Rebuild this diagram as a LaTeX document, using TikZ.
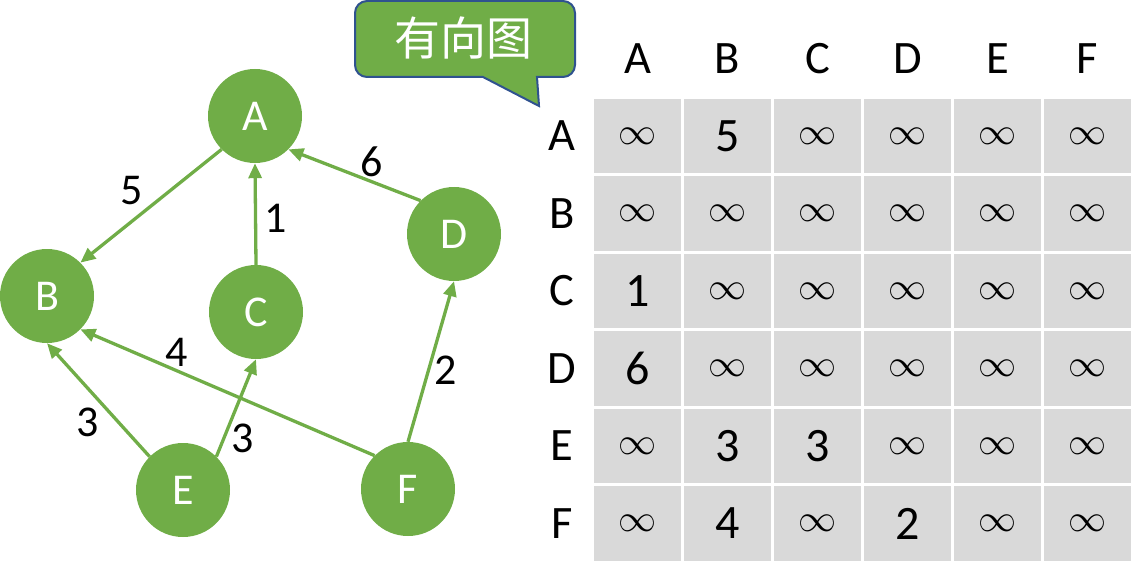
\documentclass[tikz,border=0pt]{standalone}
\usepackage{graphicx}
\usepackage{fontspec}
\setmainfont{Carlito}
\newfontfamily\cjk{Noto Sans CJK SC}
\usetikzlibrary{arrows.meta}
\definecolor{vgreen}{HTML}{70AD47}
\definecolor{vgray}{HTML}{D9D9D9}
\definecolor{vblue}{HTML}{2F528F}
\newcommand\vinf{\resizebox{38pt}{!}{$\infty$}}
\tikzset{
  vertex/.style={circle, fill=vgreen, draw=none, minimum size=94pt, inner sep=0pt, text=white, font=\fontsize{44}{44}\selectfont},
  edge/.style={draw=vgreen, line width=3.3pt, -{Triangle[length=15pt,width=13pt]}},
  wlabel/.style={inner sep=0pt, font=\fontsize{44}{44}\selectfont},
  cell/.style={rectangle, fill=vgray, draw=none, minimum width=87pt, minimum height=74.5pt, inner sep=0pt, font=\fontsize{48}{48}\selectfont},
  hdr/.style={inner sep=0pt, font=\fontsize{46.5}{46.5}\selectfont},
}
\begin{document}
\begin{tikzpicture}[x=1pt, y=-1pt]
\useasboundingbox (0,0) rectangle (1134,564);
% callout
\draw[fill=vgreen, draw=vblue, line width=2pt]
  (539,106) -- (483,77) [rounded corners=12pt] -- (355,77) -- (355,1) -- (575,1) -- (575,77) [sharp corners] -- (537,77) -- cycle;
\node[text=white, font=\cjk\fontsize{46}{46}\selectfont, inner sep=0pt] (title) at (463,38) {有向图};
% vertices
\node[vertex] (A) at (255,116) {A};
\node[vertex] (B) at (47,296) {B};
\node[vertex] (C) at (256,312) {C};
\node[vertex] (D) at (454,234) {D};
\node[vertex] (E) at (183,490) {E};
\node[vertex] (F) at (408,489) {F};
% edges
\draw[edge] (A.south west) -- (B.north east);
\draw[edge] (C.north) -- (A.south);
\draw[edge] (D.north west) -- (A.south east);
\draw[edge] (E.north west) -- (B.south);
\draw[edge] (E.north east) -- (C.south);
\draw[edge] (F.north west) -- (B.south east);
\draw[edge] (F.north) -- (D.south);
% weights
\node[wlabel] (w5) at (132,191) {5};
\node[wlabel] (w1) at (276,218) {1};
\node[wlabel] (w6) at (372,162) {6};
\node[wlabel] (w4) at (177,352) {4};
\node[wlabel] (w3a) at (88,422) {3};
\node[wlabel] (w3b) at (243,438) {3};
\node[wlabel] (w2) at (446,370) {2};
% table headers
\foreach \h [count=\j] in {A,B,C,D,E,F} {
  \node[hdr] (col\h) at ({637.5+90*(\j-1)},59) {\h};
  \node[hdr] (row\h) at (562,{136+77.5*(\j-1)}) {\h};
}
% table cells
\foreach \vals [count=\i] in {{\vinf,5,\vinf,\vinf,\vinf,\vinf},{\vinf,\vinf,\vinf,\vinf,\vinf,\vinf},{1,\vinf,\vinf,\vinf,\vinf,\vinf},{6,\vinf,\vinf,\vinf,\vinf,\vinf},{\vinf,3,3,\vinf,\vinf,\vinf},{\vinf,4,\vinf,2,\vinf,\vinf}} {
  \foreach \v [count=\j] in \vals {
    \node[cell] (c\i-\j) at ({637.5+90*(\j-1)},{136+77.5*(\i-1)}) {\v};
  }
}
\end{tikzpicture}
\end{document}
